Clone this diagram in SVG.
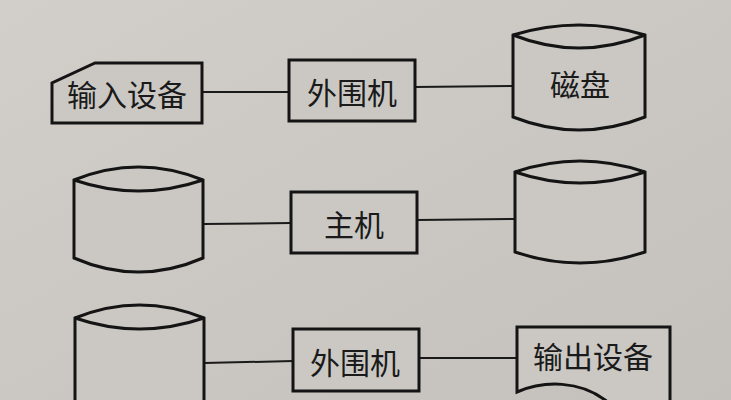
<svg xmlns="http://www.w3.org/2000/svg" width="731" height="400" viewBox="0 0 731 400">
<style>
.s{fill:#cbc8c3;stroke:#141414;stroke-width:3;stroke-linejoin:miter}
.i{fill:none;stroke:#141414;stroke-width:3}
.c{fill:none;stroke:#1a1a1a;stroke-width:2}
.t{font-family:"Noto Sans CJK SC","Noto Sans",sans-serif;font-size:30px;fill:#1a1a1a;text-anchor:middle;dominant-baseline:central}
</style>
<defs>
<linearGradient id="bg" x1="0" y1="0" x2="1" y2="1">
<stop offset="0" stop-color="#d2cfcb"/>
<stop offset="1" stop-color="#c4c1bc"/>
</linearGradient>
</defs>
<rect width="731" height="400" fill="url(#bg)"/>
<g id="connectors">
<line class="c" x1="202" y1="92" x2="289" y2="92"/>
<line class="c" x1="415" y1="87" x2="513" y2="86"/>
<line class="c" x1="203" y1="224" x2="291" y2="223"/>
<line class="c" x1="417" y1="220" x2="515" y2="219"/>
<line class="c" x1="204" y1="363" x2="293" y2="361"/>
<line class="c" x1="419" y1="358" x2="517" y2="358"/>
</g>
<g id="input-device">
<path class="s" d="M52,123 V83 L95,63 H202 V123 Z"/>
<text class="t" x="127" y="93">输入设备</text>
</g>
<g id="peripheral-1">
<rect class="s" x="289" y="60" width="126" height="61"/>
<text class="t" x="352" y="91">外围机</text>
</g>
<g id="disk-1">
<path class="s" d="M513,35 Q579,15 645,35 V117 Q579,143 513,117 Z"/>
<path class="i" d="M513,35 Q579,61 645,35"/>
<text class="t" x="580" y="83">磁盘</text>
</g>
<g id="disk-2-left">
<path class="s" d="M74,180 Q138.5,154 203,180 V258 Q138.5,286 74,258 Z"/>
<path class="i" d="M74,180 Q138.5,202 203,180"/>
</g>
<g id="host">
<rect class="s" x="291" y="192" width="126" height="61"/>
<text class="t" x="354" y="223">主机</text>
</g>
<g id="disk-2-right">
<path class="s" d="M515,172 Q580,150 645,172 V252 Q580,274 515,252 Z"/>
<path class="i" d="M515,172 Q580,194 645,172"/>
</g>
<g id="disk-3">
<path class="s" d="M75,318 Q139.5,292 204,318 V412 H75 Z"/>
<path class="i" d="M75,318 Q139.5,340 204,318"/>
</g>
<g id="peripheral-3">
<rect class="s" x="293" y="329" width="126" height="62"/>
<text class="t" x="355" y="361">外围机</text>
</g>
<g id="output-device">
<path class="s" d="M517,392 V327 H670 V412 H640 C625,412 615,408 605,400 C580,381 545,380 517,392 Z"/>
<text class="t" x="593" y="355">输出设备</text>
</g>
</svg>
